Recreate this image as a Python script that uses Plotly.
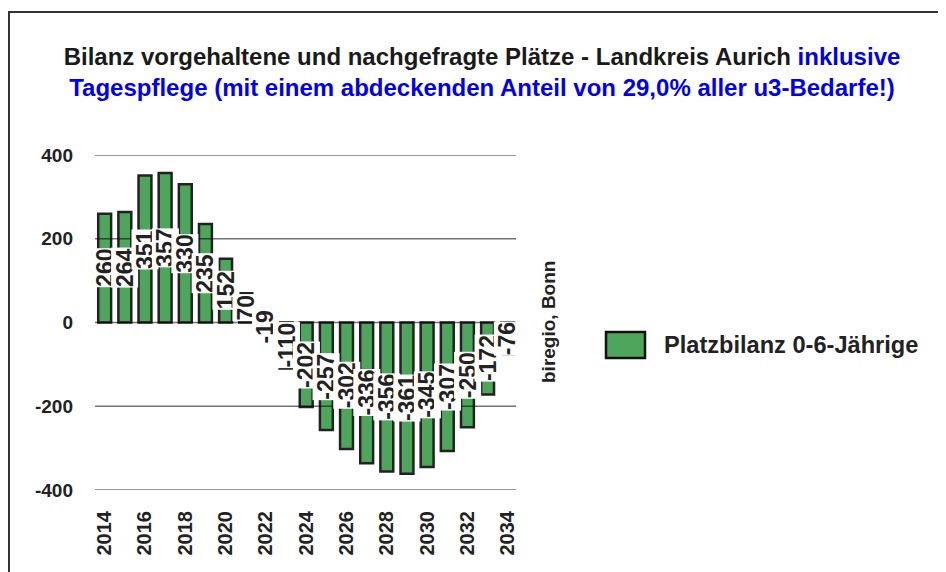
import plotly.graph_objects as go

# ---- data ----
years = list(range(2014, 2035))
values = [260, 264, 351, 357, 330, 235, 152, 70, -19, -110, -202, -257,
          -302, -336, -356, -361, -345, -307, -250, -172, -76]
y_ticks = [-400, -200, 0, 200, 400]
y_tick_labels = ["-400", "-200", "0", "200", "400"]
x_ticks = list(range(2014, 2035, 2))
series_name = "Platzbilanz 0-6-Jährige"
title_black = "Bilanz vorgehaltene und nachgefragte Plätze - Landkreis Aurich "
title_blue_1 = "inklusive"
title_blue_2 = "Tagespflege (mit einem abdeckenden Anteil von 29,0% aller u3-Bedarfe!)"
source_text = "biregio, Bonn"

# ---- styling ----
OFF = 8  # page body margin
W, H = 946 - OFF, 572 - OFF
PLOT_L, PLOT_R, PLOT_T, PLOT_B = 95 - OFF, 516 - OFF, 155 - OFF, 490 - OFF
L, R, T, B = PLOT_L, W - PLOT_R, PLOT_T, H - PLOT_B
PW, PH = PLOT_R - PLOT_L, PLOT_B - PLOT_T
GREEN = "#4DA65B"
DARK = "#222222"
SANS = "Liberation Sans, Arial, sans-serif"


def px_x(px):  # px in reference screenshot coordinates
    return (px - OFF - PLOT_L) / PW


def px_y(py):
    return (PLOT_B - (py - OFF)) / PH


fig = go.Figure()
fig.add_trace(go.Bar(
    x=years, y=values, name=series_name, width=0.64,
    marker=dict(color=GREEN, line=dict(color=DARK, width=2.5)),
    showlegend=False, hoverinfo="x+y",
))

annotations = []
for yr, v in zip(years, values):
    annotations.append(dict(
        x=yr, y=v / 2, xref="x", yref="y", text=str(v), textangle=-90,
        xanchor="center", yanchor="middle",
        showarrow=False, bgcolor="white", borderpad=0,
        font=dict(family=SANS, size=23, color=DARK, weight="bold"),
    ))

# source text
annotations.append(dict(
    x=px_x(548), y=px_y(322), xref="paper", yref="paper", text=source_text,
    textangle=-90, showarrow=False, xanchor="center", yanchor="middle",
    font=dict(family=SANS, size=19, color=DARK, weight="bold"),
))
# legend text
annotations.append(dict(
    x=px_x(662), y=px_y(345), xref="paper", yref="paper", text=series_name,
    xanchor="left", yanchor="middle", showarrow=False,
    font=dict(family=SANS, size=23.6, color=DARK, weight="bold"),
))

shapes = []
for t in y_ticks:
    shapes.append(dict(
        type="line", xref="paper", yref="y", x0=0, x1=1, y0=t, y1=t,
        line=dict(color="rgba(0,0,0,0.55)", width=1.3), layer="above",
    ))
# legend box
shapes.append(dict(
    type="rect", xref="paper", yref="paper",
    x0=px_x(606), x1=px_x(645), y0=px_y(358), y1=px_y(332),
    fillcolor=GREEN, line=dict(color="#111111", width=2.5), layer="above",
))
# outer frame
shapes.append(dict(
    type="rect", xref="paper", yref="paper",
    x0=px_x(9), x1=px_x(1100), y0=px_y(700), y1=px_y(12),
    fillcolor="rgba(0,0,0,0)", line=dict(color="#333333", width=2), layer="above",
))

fig.update_layout(
    width=W, height=H,
    margin=dict(l=L, r=R, t=T, b=B, autoexpand=False),
    paper_bgcolor="white", plot_bgcolor="white",
    title=dict(
        text=("<b>" + title_black + "<span style='color:#0000EE'>" + title_blue_1 +
              "</span><br><span style='color:#0000EE'>" + title_blue_2 + "</span></b>"),
        x=(482 - OFF) / W, xanchor="center", xref="container",
        y=1 - 57 / H, yanchor="middle", yref="container",
        font=dict(family=SANS, size=24, color="#1a1a1a"),
    ),
    xaxis=dict(
        range=[2013.52, 2034.41], tickvals=x_ticks, ticktext=[str(t) for t in x_ticks],
        tickangle=-90, showgrid=False, zeroline=False, showline=False, ticks="",
        ticklabelstandoff=16,
        tickfont=dict(family=SANS, size=20, color=DARK, weight="bold"),
    ),
    yaxis=dict(
        range=[-400, 400], tickvals=y_ticks, ticktext=y_tick_labels,
        showgrid=False, zeroline=False,
        showline=False, ticks="", ticklabelstandoff=21,
        tickfont=dict(family=SANS, size=19, color=DARK, weight="bold"),
    ),
    annotations=annotations, shapes=shapes, bargap=0.2,
)

fig.write_html("out.html")
